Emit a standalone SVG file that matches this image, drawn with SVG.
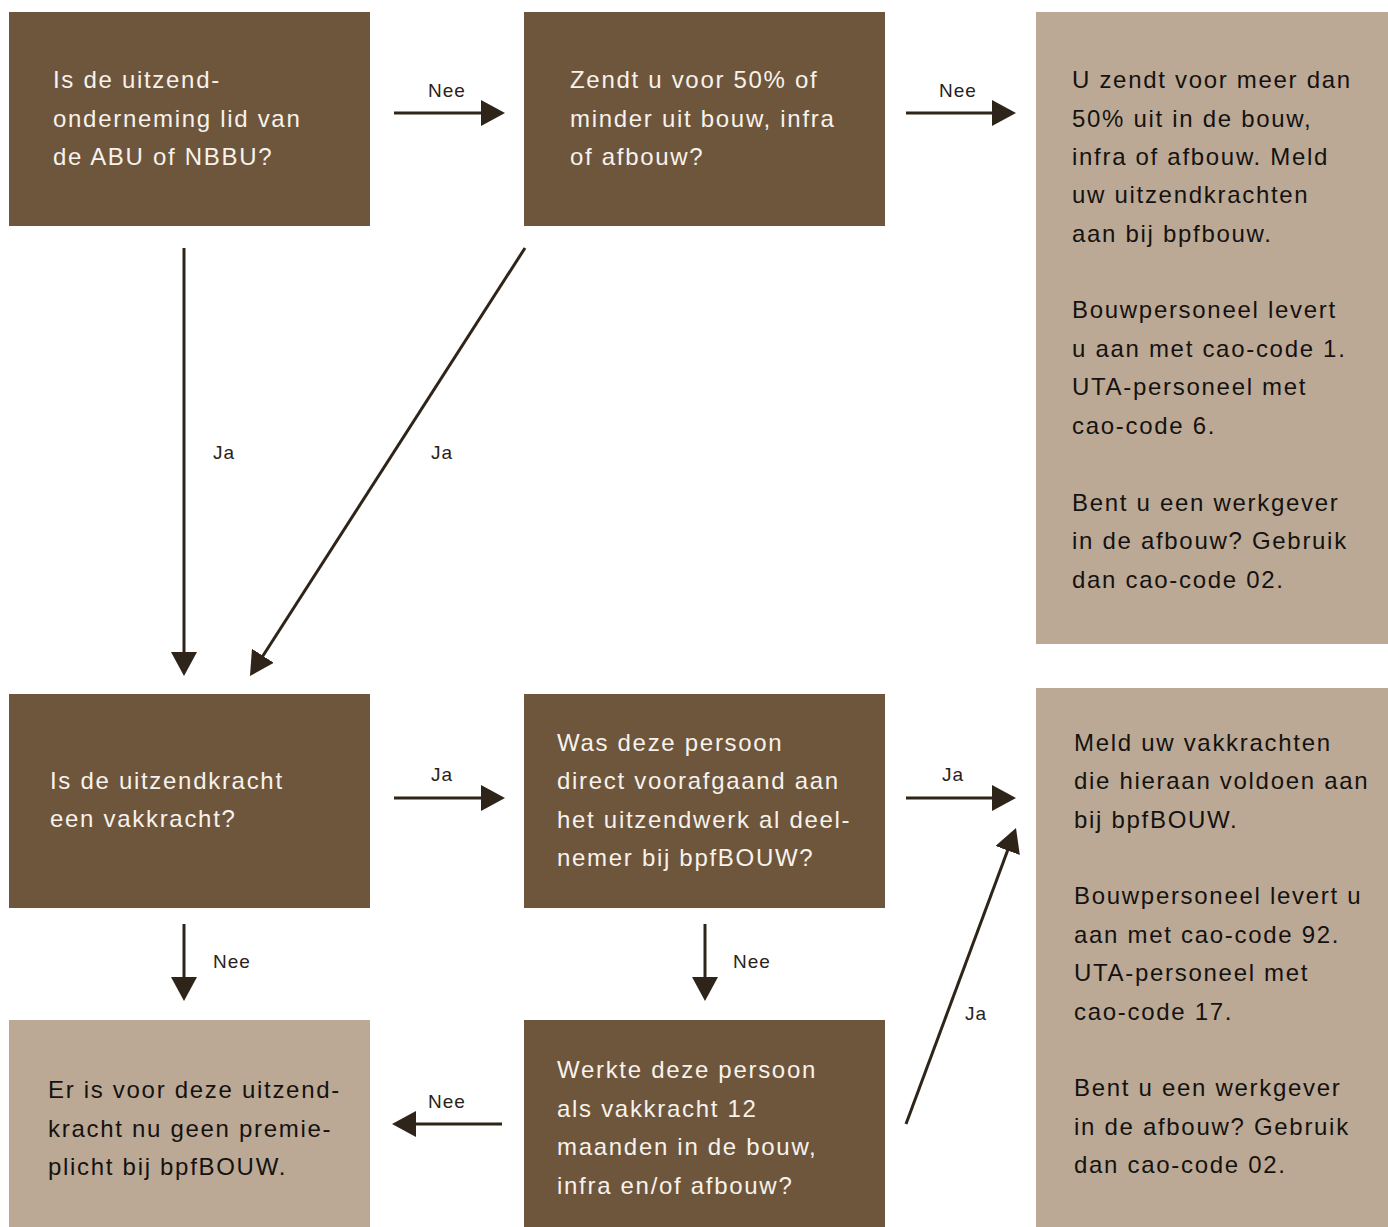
<svg xmlns="http://www.w3.org/2000/svg" width="1388" height="1227" viewBox="0 0 1388 1227">
<style>
.dark{fill:#6e563c}
.light{fill:#bca995}
.t{font-family:"Liberation Sans",Arial,sans-serif;font-size:24px;letter-spacing:1.7px}
.tw{fill:#f7f2ec}
.tb{fill:#141210}
.lbl{font-family:"Liberation Sans",Arial,sans-serif;font-size:19px;letter-spacing:1px;fill:#2a221a;text-anchor:middle}
.c{stroke:#2e2419;stroke-width:3;fill:none}
</style>
<defs>
<marker id="ah" markerWidth="24" markerHeight="26" viewBox="0 0 24 26" refX="18" refY="13" markerUnits="userSpaceOnUse" orient="auto">
<path d="M0,0 L24,13 L0,26 Z" fill="#2e2419"/>
</marker>
</defs>
<rect width="1388" height="1227" fill="#ffffff"/>
<g id="n1"><rect class="dark" x="9" y="12" width="361" height="214"/>
<text class="t tw"><tspan x="53" y="88">Is de uitzend-</tspan><tspan x="53" y="127">onderneming lid van</tspan><tspan x="53" y="165">de ABU of NBBU?</tspan></text></g>
<g id="n2"><rect class="dark" x="524" y="12" width="361" height="214"/>
<text class="t tw"><tspan x="570" y="88">Zendt u voor 50% of</tspan><tspan x="570" y="127">minder uit bouw, infra</tspan><tspan x="570" y="165">of afbouw?</tspan></text></g>
<g id="n3"><rect class="light" x="1036" y="12" width="352" height="632"/>
<text class="t tb"><tspan x="1072" y="88">U zendt voor meer dan</tspan><tspan x="1072" y="127">50% uit in de bouw,</tspan><tspan x="1072" y="165">infra of afbouw. Meld</tspan><tspan x="1072" y="203">uw uitzendkrachten</tspan><tspan x="1072" y="242">aan bij bpfbouw.</tspan><tspan x="1072" y="318">Bouwpersoneel levert</tspan><tspan x="1072" y="357">u aan met cao-code 1.</tspan><tspan x="1072" y="395">UTA-personeel met</tspan><tspan x="1072" y="434">cao-code 6.</tspan><tspan x="1072" y="511">Bent u een werkgever</tspan><tspan x="1072" y="549">in de afbouw? Gebruik</tspan><tspan x="1072" y="588">dan cao-code 02.</tspan></text></g>
<g id="n4"><rect class="dark" x="9" y="694" width="361" height="214"/>
<text class="t tw"><tspan x="50" y="789">Is de uitzendkracht</tspan><tspan x="50" y="827">een vakkracht?</tspan></text></g>
<g id="n5"><rect class="dark" x="524" y="694" width="361" height="214"/>
<text class="t tw"><tspan x="557" y="751">Was deze persoon</tspan><tspan x="557" y="789">direct voorafgaand aan</tspan><tspan x="557" y="828">het uitzendwerk al deel-</tspan><tspan x="557" y="866">nemer bij bpfBOUW?</tspan></text></g>
<g id="n6"><rect class="light" x="1036" y="688" width="352" height="539"/>
<text class="t tb"><tspan x="1074" y="751">Meld uw vakkrachten</tspan><tspan x="1074" y="789">die hieraan voldoen aan</tspan><tspan x="1074" y="828">bij bpfBOUW.</tspan><tspan x="1074" y="904">Bouwpersoneel levert u</tspan><tspan x="1074" y="943">aan met cao-code 92.</tspan><tspan x="1074" y="981">UTA-personeel met</tspan><tspan x="1074" y="1020">cao-code 17.</tspan><tspan x="1074" y="1096">Bent u een werkgever</tspan><tspan x="1074" y="1135">in de afbouw? Gebruik</tspan><tspan x="1074" y="1173">dan cao-code 02.</tspan></text></g>
<g id="n7"><rect class="light" x="9" y="1020" width="361" height="207"/>
<text class="t tb"><tspan x="48" y="1098">Er is voor deze uitzend-</tspan><tspan x="48" y="1137">kracht nu geen premie-</tspan><tspan x="48" y="1175">plicht bij bpfBOUW.</tspan></text></g>
<g id="n8"><rect class="dark" x="524" y="1020" width="361" height="207"/>
<text class="t tw"><tspan x="557" y="1078">Werkte deze persoon</tspan><tspan x="557" y="1117">als vakkracht 12</tspan><tspan x="557" y="1155">maanden in de bouw,</tspan><tspan x="557" y="1194">infra en/of afbouw?</tspan></text></g>
<g id="connectors">
<line class="c" x1="394" y1="113" x2="499" y2="113" marker-end="url(#ah)"/>
<text class="lbl" x="447" y="97">Nee</text>
<line class="c" x1="906" y1="113" x2="1010" y2="113" marker-end="url(#ah)"/>
<text class="lbl" x="958" y="97">Nee</text>
<line class="c" x1="184" y1="248" x2="184" y2="670" marker-end="url(#ah)"/>
<text class="lbl" x="224" y="459">Ja</text>
<line class="c" x1="525" y1="248" x2="253.2" y2="671" marker-end="url(#ah)"/>
<text class="lbl" x="442" y="459">Ja</text>
<line class="c" x1="394" y1="798" x2="499" y2="798" marker-end="url(#ah)"/>
<text class="lbl" x="442" y="781">Ja</text>
<line class="c" x1="906" y1="798" x2="1010" y2="798" marker-end="url(#ah)"/>
<text class="lbl" x="953" y="781">Ja</text>
<line class="c" x1="184" y1="924" x2="184" y2="995" marker-end="url(#ah)"/>
<text class="lbl" x="232" y="968">Nee</text>
<line class="c" x1="705" y1="924" x2="705" y2="995" marker-end="url(#ah)"/>
<text class="lbl" x="752" y="968">Nee</text>
<line class="c" x1="502" y1="1124" x2="398" y2="1124" marker-end="url(#ah)"/>
<text class="lbl" x="447" y="1108">Nee</text>
<line class="c" x1="906" y1="1124" x2="1013.9" y2="833.6" marker-end="url(#ah)"/>
<text class="lbl" x="976" y="1020">Ja</text>
</g>
</svg>
